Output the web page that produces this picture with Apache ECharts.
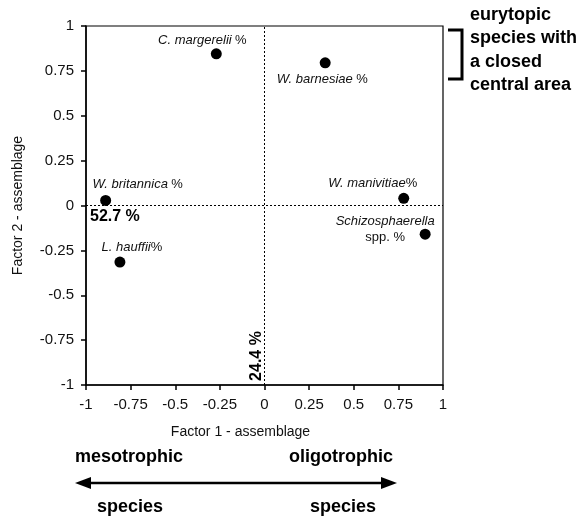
<!DOCTYPE html>
<html>
<head>
<meta charset="utf-8">
<script src="https://cdn.jsdelivr.net/npm/echarts@6/dist/echarts.min.js"></script>
<style>html,body{margin:0;padding:0;background:#fff}#c{width:583px;height:522px}</style>
</head>
<body>
<div id="c"></div>
<script>
// ---- data ----
var speciesNames = ['C. margerelii', 'W. barnesiae', 'W. britannica', 'L. hauffii', 'W. manivitiae', 'Schizosphaerella'];
var factor1 = [-0.27, 0.34, -0.89, -0.81, 0.78, 0.90];
var factor2 = [0.845, 0.795, 0.028, -0.315, 0.04, -0.16];
var tickLabels = ['-1', '-0.75', '-0.5', '-0.25', '0', '0.25', '0.5', '0.75', '1'];
var xAxisTitle = 'Factor 1 - assemblage';
var yAxisTitle = 'Factor 2 - assemblage';
var factor1Variance = '52.7 %';
var factor2Variance = '24.4 %';

// ---- label placement (pixel offsets from the point) ----
var labelText = [
  '{i|C. margerelii} {n|%}',
  '{i|W. barnesiae} {n|%}',
  '{i|W. britannica} {n|%}',
  '{i|L. hauffii}{n|%}',
  '{i|W. manivitiae}{n|%}',
  '{i|Schizosphaerella}\n{n|spp. %}'
];
var labelOffset = [[-14, -13], [-3, 17], [32, -16], [12, -15], [-31, -15], [-40, -5]];

var font = 'Liberation Sans, Arial, Helvetica, sans-serif';
var ink = '#111';
var chart = echarts.init(document.getElementById('c'), null, {renderer: 'canvas'});

var data = factor1.map(function (x, i) {
  return {
    name: speciesNames[i],
    value: [x, factor2[i]],
    label: {
      show: true,
      position: 'inside',
      offset: labelOffset[i],
      formatter: labelText[i],
      align: 'center',
      verticalAlign: 'middle',
      lineHeight: 16
    }
  };
});

function tickFmt(v) {
  var idx = Math.round((v + 1) / 0.25);
  return tickLabels[idx] !== undefined ? tickLabels[idx] : '';
}

var axisCommon = {
  type: 'value',
  min: -1,
  max: 1,
  interval: 0.25,
  splitLine: {show: false},
  axisLine: {show: true, onZero: false, lineStyle: {color: '#000', width: 1.5}},
  axisTick: {show: true, inside: false, length: 5, lineStyle: {color: '#000', width: 1.5}},
  nameLocation: 'middle'
};

chart.setOption({
  animation: false,
  backgroundColor: '#fff',
  grid: {left: 86, right: 140, top: 26, bottom: 137, show: true, borderColor: '#000', borderWidth: 1.2, backgroundColor: 'transparent'},
  xAxis: Object.assign({}, axisCommon, {
    position: 'bottom',
    name: xAxisTitle,
    nameGap: 40,
    nameTextStyle: {fontFamily: font, fontSize: 14, color: ink, padding: [0, 48, 0, 0]},
    axisLabel: {formatter: tickFmt, fontFamily: font, fontSize: 15, color: ink, margin: 12}
  }),
  yAxis: Object.assign({}, axisCommon, {
    position: 'left',
    name: yAxisTitle,
    nameGap: 61,
    nameTextStyle: {fontFamily: font, fontSize: 14, color: ink},
    axisLabel: {formatter: tickFmt, fontFamily: font, fontSize: 15, color: ink, margin: 12}
  }),
  series: [{
    type: 'scatter',
    symbol: 'circle',
    symbolSize: 11,
    itemStyle: {color: '#000', opacity: 1},
    data: data,
    label: {
      rich: {
        i: {fontFamily: font, fontStyle: 'italic', fontSize: 13, color: ink},
        n: {fontFamily: font, fontSize: 13, color: ink}
      }
    },
    markLine: {
      silent: true,
      symbol: ['none', 'none'],
      label: {show: false},
      lineStyle: {type: [2, 2], color: '#000', width: 1},
      data: [{xAxis: 0}, {yAxis: 0}]
    }
  }],
  graphic: [
    {type: 'text', left: 90, top: 209, style: {text: factor1Variance, font: 'bold 16px ' + font, fill: '#000'}},
    {type: 'text', x: 257, y: 356, rotation: Math.PI / 2, style: {text: factor2Variance, font: 'bold 16px ' + font, fill: '#000', align: 'center', verticalAlign: 'middle'}},
    // bracket
    {type: 'polyline', shape: {points: [[448, 30], [462, 30], [462, 79], [448, 79]]}, style: {stroke: '#000', lineWidth: 3, fill: null}},
    {type: 'text', left: 470, top: 3, style: {text: 'eurytopic\nspecies with\na closed\ncentral area', font: 'bold 18px ' + font, fill: '#000', lineHeight: 23.5}},
    // trophic arrow
    {type: 'text', left: 75, top: 448, style: {text: 'mesotrophic', font: 'bold 18px ' + font, fill: '#000'}},
    {type: 'text', left: 289, top: 448, style: {text: 'oligotrophic', font: 'bold 18px ' + font, fill: '#000'}},
    {type: 'line', shape: {x1: 88, y1: 483, x2: 384, y2: 483}, style: {stroke: '#000', lineWidth: 2.5}},
    {type: 'polygon', shape: {points: [[75, 483], [91, 477], [91, 489]]}, style: {fill: '#000'}},
    {type: 'polygon', shape: {points: [[397, 483], [381, 477], [381, 489]]}, style: {fill: '#000'}},
    {type: 'text', left: 97, top: 498, style: {text: 'species', font: 'bold 18px ' + font, fill: '#000'}},
    {type: 'text', left: 310, top: 498, style: {text: 'species', font: 'bold 18px ' + font, fill: '#000'}}
  ]
});
</script>
</body>
</html>
